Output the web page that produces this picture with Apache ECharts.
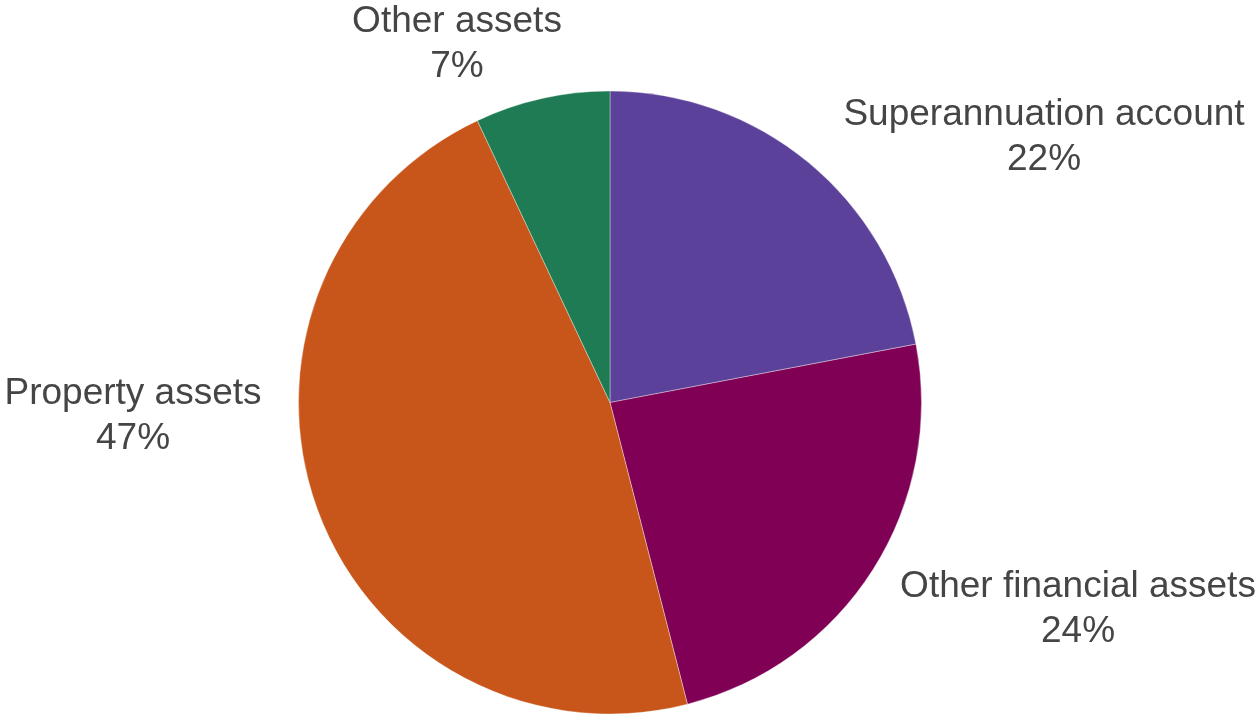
<!DOCTYPE html>
<html>
<head>
<meta charset="utf-8">
<title>Asset composition</title>
<script src="https://cdn.jsdelivr.net/npm/echarts@6/dist/echarts.min.js"></script>
<style>
  html, body { margin: 0; padding: 0; background: #ffffff; }
  #chart { width: 1260px; height: 715px; }
</style>
</head>
<body>
<div id="chart"></div>
<script>
// Share of total assets by type (per cent), clockwise from 12 o'clock
const categories = ['Superannuation account', 'Other financial assets', 'Property assets', 'Other assets'];
const shares = [22, 24, 47, 7];

const sliceColors = ['#5b4199', '#7f0055', '#c8561a', '#1f7b53'];

// Centre point of each two-line label block
const labelAnchors = [
  [1044, 137],
  [1078, 609],
  [133, 416],
  [457, 44]
];

const chart = echarts.init(document.getElementById('chart'), null, { renderer: 'canvas' });

chart.setOption({
  animation: false,
  backgroundColor: '#ffffff',
  series: [{
    type: 'pie',
    center: [610, 402.5],
    radius: [0, 311.5],
    startAngle: 90,
    clockwise: true,
    avoidLabelOverlap: false,
    data: categories.map((name, i) => ({
      name: name,
      value: shares[i],
      itemStyle: { color: sliceColors[i] }
    })),
    itemStyle: { borderColor: 'rgba(255,255,255,0.6)', borderWidth: 0.6 },
    label: {
      show: true,
      position: 'outside',
      formatter: '{b}\n{c}%',
      fontFamily: '"Liberation Sans", Arial, sans-serif',
      fontSize: 37,
      lineHeight: 45,
      color: '#454545',
      align: 'center'
    },
    labelLine: { show: false },
    labelLayout: function (params) {
      const p = labelAnchors[params.dataIndex];
      return { x: p[0], y: p[1], align: 'center', verticalAlign: 'middle' };
    },
    emphasis: { disabled: true }
  }]
});
</script>
</body>
</html>
